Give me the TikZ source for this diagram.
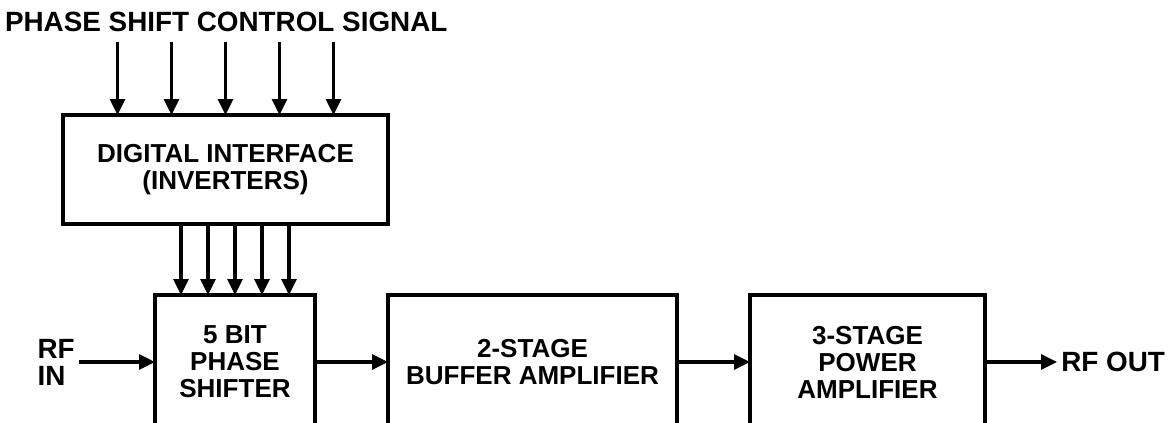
\documentclass[tikz,border=0pt]{standalone}
\usepackage{fontspec}
\setmainfont{Liberation Sans}
\usetikzlibrary{arrows.meta, positioning}

\begin{document}
\begin{tikzpicture}[
  block/.style={draw, line width=2.8pt, outer sep=0pt, inner sep=0pt, align=center,
    font=\bfseries\fontsize{18.5}{19.2}\selectfont},
  sig/.style={-{Triangle[length=4mm, width=3.7mm]}, line width=2.35pt},
  lbl/.style={font=\bfseries\fontsize{19.8}{19.2}\selectfont, align=left, inner sep=0.1cm},
  node distance=1.825cm
]
  \useasboundingbox (0,0) rectangle (29.325,10.55);
  \clip (0,0) rectangle (29.325,10.55);
  % RF chain
  \node[block, minimum width=4cm, minimum height=3.35cm] (ps) at (5.875,1.5) {5 BIT\\PHASE\\SHIFTER};
  \node[block, minimum width=7.225cm, minimum height=3.35cm, right=of ps] (buf) {2-STAGE\\BUFFER AMPLIFIER};
  \node[block, minimum width=5.875cm, minimum height=3.35cm, right=of buf] (pa) {3-STAGE\\POWER\\AMPLIFIER};
  \node[lbl, left=1.9cm of ps] (rfin) {RF\\IN};
  \node[lbl, right=1.8cm of pa] (rfout) {RF OUT};
  \draw[sig] (rfin) -- (ps);
  \draw[sig] (ps) -- (buf);
  \draw[sig] (buf) -- (pa);
  \draw[sig] (pa) -- (rfout);
  % control path
  \node[block, minimum width=8.125cm, minimum height=2.725cm] (di) at (5.6375,6.3125) {DIGITAL INTERFACE\\(INVERTERS)};
  \node[lbl, anchor=west, inner sep=0pt] (ctl) at (0.12,10.0) {PHASE SHIFT CONTROL SIGNAL};
  \foreach \dx [count=\i] in {-2.7,-1.35,0,1.35,2.7} {
    \coordinate (in\i) at ([xshift=\dx cm, yshift=1.825cm]di.north);
    \draw[sig] (in\i) -- (in\i |- di.north);
  }
  \foreach \dx in {-1.35,-0.675,0,0.675,1.35}
    \draw[sig] ([xshift=\dx cm]ps.north |- di.south) -- ([xshift=\dx cm]ps.north);
\end{tikzpicture}
\end{document}
